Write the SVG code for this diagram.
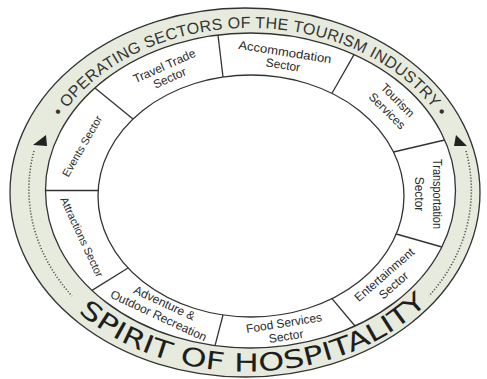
<svg xmlns="http://www.w3.org/2000/svg" width="487" height="379" viewBox="0 0 487 379">
<style>
.ln{fill:none;stroke:#333;stroke-width:1.3}
.sec{font-family:"Liberation Sans",Arial,sans-serif;font-size:12px;fill:#2a2a2a;text-anchor:middle}
.band{font-family:"Liberation Sans",Arial,sans-serif;font-size:16px;fill:#333;letter-spacing:0.3px}
.hosp{font-family:"DejaVu Sans","Liberation Sans",sans-serif;font-size:25px;fill:#1e1e1e}
.dot{fill:none;stroke:#555;stroke-width:1.6;stroke-dasharray:1.2 1.8}
.arr{fill:#222}
</style>
<defs>
<path id="topArc" d="M 38 190.5 A 212 162.5 0 0 1 462 190.5"/>
<path id="botArc" d="M 19 191 A 229 180.5 0 0 0 477 191"/>
</defs>
<rect width="487" height="379" fill="#fff"/>
<g id="ring">
<ellipse cx="245" cy="192.5" rx="235" ry="184.5" fill="#e6ebde" stroke="#333" stroke-width="1.3"/>
<ellipse cx="250.5" cy="190.5" rx="205" ry="157.5" fill="#fff" stroke="#333" stroke-width="1.3"/>
<ellipse cx="251" cy="196" rx="153" ry="121" fill="#fff" stroke="#333" stroke-width="1.3"/>
</g>
<g id="band-titles">
<text class="band"><textPath href="#topArc" startOffset="50%" text-anchor="middle">• OPERATING SECTORS OF THE TOURISM INDUSTRY •</textPath></text>
<text class="hosp"><textPath href="#botArc" startOffset="51%" text-anchor="middle" textLength="380" lengthAdjust="spacingAndGlyphs">SPIRIT OF HOSPITALITY</textPath></text>
</g>
<g id="cycle-arrows">
<path class="dot" d="M 34 151 A 222 180 0 0 0 72 296"/>
<path class="dot" d="M 466 151 A 222 180 0 0 1 429 296"/>
<polygon class="arr" points="33,145 46,135 47,146"/>
<polygon class="arr" points="467,146 456,135 454,146"/>
</g>
<g id="connectors">
<line class="ln" x1="218" y1="35" x2="223" y2="77"/>
<line class="ln" x1="354" y1="54.6" x2="332" y2="93.3"/>
<line class="ln" x1="444.7" y1="140" x2="393.5" y2="152"/>
<line class="ln" x1="441.9" y1="247" x2="396.3" y2="234"/>
<line class="ln" x1="355" y1="326" x2="332" y2="298.7"/>
<line class="ln" x1="215" y1="345.6" x2="223" y2="315"/>
<line class="ln" x1="92" y1="290.4" x2="128" y2="268"/>
<line class="ln" x1="45.5" y1="190.5" x2="98.2" y2="190.5"/>
<line class="ln" x1="95" y1="87.9" x2="133" y2="119"/>
</g>
<g id="travel-trade"><text class="sec" transform="translate(167,72) rotate(-24)"><tspan x="0" y="-2.5">Travel Trade</tspan><tspan x="0" y="10.5">Sector</tspan></text></g>
<g id="accommodation"><text class="sec" transform="translate(284,58.5) rotate(9)"><tspan x="0" y="-2.5" textLength="94" lengthAdjust="spacingAndGlyphs">Accommodation</tspan><tspan x="0" y="10.5">Sector</tspan></text></g>
<g id="tourism-services"><text class="sec" transform="translate(392,106) rotate(45)"><tspan x="0" y="-4">Tourism</tspan><tspan x="0" y="11">Services</tspan></text></g>
<g id="transportation"><text class="sec" transform="translate(427.5,194) rotate(90)"><tspan x="0" y="-5" textLength="70" lengthAdjust="spacingAndGlyphs">Transportation</tspan><tspan x="0" y="13">Sector</tspan></text></g>
<g id="entertainment"><text class="sec" transform="translate(389,280) rotate(-41)"><tspan x="0" y="-3">Entertainment</tspan><tspan x="0" y="11">Sector</tspan></text></g>
<g id="food-services"><text class="sec" transform="translate(285,329.5) rotate(-9)"><tspan x="0" y="-2.5">Food Services</tspan><tspan x="0" y="11">Sector</tspan></text></g>
<g id="adventure"><text class="sec" transform="translate(161.5,309.5) rotate(25)"><tspan x="0" y="-3">Adventure &amp;</tspan><tspan x="0" y="11">Outdoor Recreation</tspan></text></g>
<g id="attractions"><text class="sec" style="font-size:11px" transform="translate(82,237) rotate(65)"><tspan x="0" y="4">Attractions Sector</tspan></text></g>
<g id="events"><text class="sec" style="font-size:11px" transform="translate(82,146) rotate(-60)"><tspan x="0" y="4">Events Sector</tspan></text></g>
</svg>
